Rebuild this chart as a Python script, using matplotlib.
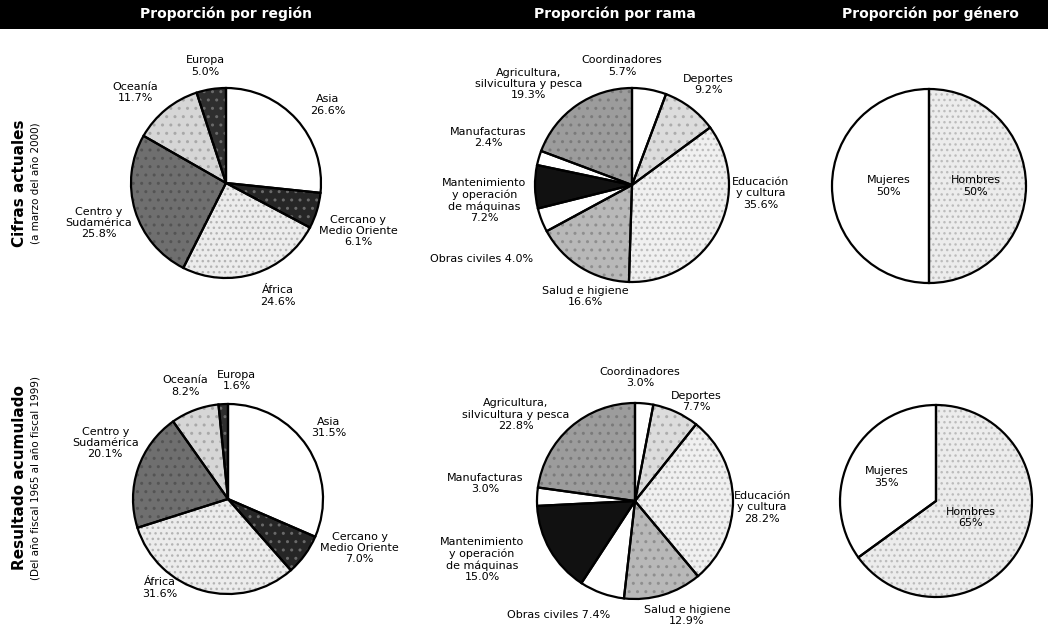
import matplotlib
matplotlib.use("Agg")
import matplotlib.pyplot as plt
import numpy as np

# Data
region_names = ["Asia", "Cercano y\nMedio Oriente", "África", "Centro y\nSudamérica", "Oceanía", "Europa"]
region_now = [26.6, 6.1, 24.6, 25.8, 11.7, 5.0]
region_total = [31.5, 7.0, 31.6, 20.1, 8.2, 1.6]

branch_names = ["Coordinadores", "Deportes", "Educación\ny cultura", "Salud e higiene",
                "Obras civiles", "Mantenimiento\ny operación\nde máquinas", "Manufacturas",
                "Agricultura,\nsilvicultura y pesca"]
branch_now = [5.7, 9.2, 35.6, 16.6, 4.0, 7.2, 2.4, 19.3]
branch_total = [3.0, 7.7, 28.2, 12.9, 7.4, 15.0, 3.0, 22.8]

gender_names = ["Hombres", "Mujeres"]
gender_now = [50, 50]
gender_total = [65, 35]

titles = ["Proporción por región", "Proporción por rama", "Proporción por género"]
row_titles = ["Cifras actuales", "Resultado acumulado"]
row_subtitles = ["(a marzo del año 2000)", "(Del año fiscal 1965 al año fiscal 1999)"]

# Styles: fill, speckle pattern, speckle colour
region_colors = ["white", "#262626", "#ececec", "#6f6f6f", "#d6d6d6", "#2e2e2e"]
region_hatch = ["", "..", "...", "..", "..", ".."]
region_hcol = ["white", "#6a6a6a", "#b4b4b4", "#545454", "#a8a8a8", "#6a6a6a"]
branch_colors = ["white", "#dcdcdc", "#f0f0f0", "#b8b8b8", "white", "#111111", "white", "#9c9c9c"]
branch_hatch = ["", "..", "...", "..", "", "", "", ".."]
branch_hcol = ["white", "#acacac", "#bcbcbc", "#8e8e8e", "white", "#111111", "white", "#7a7a7a"]
gender_colors = ["#ececec", "white"]
gender_hatch = ["...", ""]
gender_hcol = ["#bcbcbc", "white"]

W, H = 1048, 639
fig = plt.figure(figsize=(W / 100, H / 100), dpi=100)
ax = fig.add_axes([0, 0, 1, 1])

FONT = ["DejaVu Sans"]


def draw_pie(values, names, colors, hatches, hcols, cx, cy, r, nudges, dists,
             fmt="{:.1f}%", inline=()):
    # textured fill first, outlines on top
    tex, _ = ax.pie(values, colors=colors, startangle=90, counterclock=False,
                    center=(cx, H - cy), radius=r, frame=True, hatch=hatches,
                    wedgeprops=dict(linewidth=0))
    for w, hc in zip(tex, hcols):
        w.set_edgecolor(hc)
    wedges, _ = ax.pie(values, colors=["none"] * len(values), startangle=90,
                       counterclock=False, center=(cx, H - cy), radius=r, frame=True,
                       wedgeprops=dict(edgecolor="black", linewidth=1.6))
    for i, w in enumerate(wedges):
        ang = np.deg2rad((w.theta1 + w.theta2) / 2 + nudges[i])
        x = cx + dists[i] * r * np.cos(ang)
        y = H - cy + dists[i] * r * np.sin(ang)
        sep = " " if i in inline else "\n"
        ax.text(x, y, names[i] + sep + fmt.format(values[i]), ha="center", va="center",
                multialignment="center", fontsize=8, family=FONT, linespacing=1.15)


# top row
draw_pie(region_now, region_names, region_colors, region_hatch, region_hcol, 226, 183, 95,
         [-4.6, -3, 7, 0.6, 6, 1], [1.35, 1.48, 1.31, 1.40, 1.35, 1.25])
draw_pie(branch_now, branch_names, branch_colors, branch_hatch, branch_hcol, 632, 185, 97,
         [15, 0, 24, 9, 5, 5, -2, 11], [1.23, 1.30, 1.33, 1.25, 1.73, 1.53, 1.56, 1.49],
         inline=(4,))
draw_pie(gender_now, gender_names, gender_colors, gender_hatch, gender_hcol, 929, 186, 97,
         [0, 0], [0.48, 0.42], fmt="{:.0f}%")

# bottom row
draw_pie(region_total, region_names, region_colors, region_hatch, region_hcol, 228, 499, 95,
         [2, 15.5, -22, -6, 0, -7], [1.30, 1.48, 1.18, 1.42, 1.27, 1.25])
draw_pie(branch_total, branch_names, branch_colors, branch_hatch, branch_hcol, 635, 501, 98,
         [3, -7, -3.6, 7.7, -14, -9, -4, 13], [1.26, 1.19, 1.30, 1.28, 1.40, 1.67, 1.54, 1.50],
         inline=(4,))
draw_pie(gender_total, gender_names, gender_colors, gender_hatch, gender_hcol, 936, 501, 96,
         [1, 1], [0.40, 0.57], fmt="{:.0f}%")

# header band
ax.add_patch(plt.Rectangle((0, H - 29), W, 29, facecolor="black", edgecolor="none", zorder=5))
for t, x in zip(titles, [226, 615, 930]):
    ax.text(x, H - 14, t, color="white", fontsize=10, fontweight="bold", ha="center",
            va="center", family=FONT, zorder=6)

# row labels
for t, s, y in zip(row_titles, row_subtitles, [183, 478]):
    ax.text(20, H - y, t, rotation=90, fontsize=11, fontweight="bold", ha="center",
            va="center", family=FONT)
    ax.text(36, H - y, s, rotation=90, fontsize=7.5, ha="center", va="center", family=FONT)

ax.set_xlim(0, W)
ax.set_ylim(0, H)
ax.set_aspect("auto")
ax.axis("off")
fig.savefig("out.png", dpi=100, facecolor="white")
